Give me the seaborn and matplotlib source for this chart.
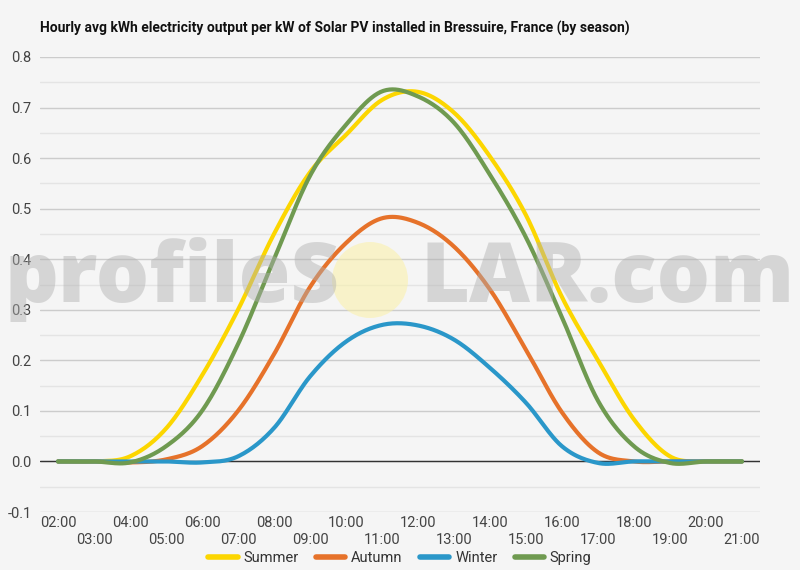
import numpy as np
import pandas as pd
import matplotlib
matplotlib.use("Agg")
import matplotlib.pyplot as plt
from matplotlib.patches import Ellipse
from matplotlib.ticker import MultipleLocator
import seaborn as sns

# Data
hours = ["02:00", "03:00", "04:00", "05:00", "06:00", "07:00", "08:00", "09:00", "10:00", "11:00",
         "12:00", "13:00", "14:00", "15:00", "16:00", "17:00", "18:00", "19:00", "20:00", "21:00"]
summer = [0, 0, 0.01, 0.065, 0.17, 0.3, 0.45, 0.572, 0.646, 0.715,
          0.731, 0.69, 0.603, 0.487, 0.325, 0.2, 0.083, 0.01, 0, 0]
autumn = [0, 0, -0.002, 0.004, 0.03, 0.1, 0.212, 0.345, 0.432, 0.481,
          0.472, 0.425, 0.34, 0.221, 0.097, 0.018, 0, 0, 0, 0]
winter = [0, 0, 0, 0, -0.002, 0.01, 0.066, 0.168, 0.237, 0.27,
          0.269, 0.241, 0.185, 0.116, 0.03, -0.003, 0, 0, 0, 0]
spring = [0, 0, -0.002, 0.03, 0.1, 0.232, 0.4, 0.565, 0.666, 0.732,
          0.722, 0.67, 0.567, 0.443, 0.285, 0.12, 0.03, -0.003, 0, 0]

seasons = {"Summer": summer, "Autumn": autumn, "Winter": winter, "Spring": spring}
palette = {"Summer": "#fcd600", "Autumn": "#e6722a", "Winter": "#2a97c9", "Spring": "#6f9a50"}


def smooth(y, n=24):
    # Catmull-Rom curve through the hourly points (like the original curved lines)
    y = np.asarray(y, float)
    p = np.concatenate([[y[0]], y, [y[-1]]])
    t = np.linspace(0, 1, n, endpoint=False)
    xs, ys = [], []
    for i in range(len(y) - 1):
        p0, p1, p2, p3 = p[i], p[i + 1], p[i + 2], p[i + 3]
        ys.append(0.5 * (2 * p1 + (-p0 + p2) * t + (2 * p0 - 5 * p1 + 4 * p2 - p3) * t ** 2
                         + (-p0 + 3 * p1 - 3 * p2 + p3) * t ** 3))
        xs.append(i + t)
    xs.append([len(y) - 1])
    ys.append([y[-1]])
    return np.concatenate(xs), np.concatenate(ys)


frames = []
for name, vals in seasons.items():
    sx, sy = smooth(vals)
    frames.append(pd.DataFrame({"x": sx, "kwh": sy, "season": name}))
df = pd.concat(frames, ignore_index=True)

bg = "#f5f5f5"
sns.set_style("white", {"axes.facecolor": bg, "figure.facecolor": bg})
plt.rcParams["font.family"] = ["Roboto", "DejaVu Sans"]

fig = plt.figure(figsize=(8, 5.7), dpi=100)
ax = fig.add_axes([0.05, 1 - 512 / 570, 0.90, (512 - 57) / 570])

sns.lineplot(data=df, x="x", y="kwh", hue="season", palette=palette, estimator=None,
             sort=False, linewidth=3, ax=ax, solid_capstyle="round")

ax.set_xlim(-0.5, len(hours) - 0.5)
ax.set_ylim(-0.1, 0.8)
ax.yaxis.set_major_locator(MultipleLocator(0.1))
ax.yaxis.set_minor_locator(MultipleLocator(0.05))
ax.grid(which="major", axis="y", color="#cccccc", linewidth=1)
ax.grid(which="minor", axis="y", color="#e4e4e4", linewidth=1)
ax.set_axisbelow(True)
ax.axhline(0, color="#333333", linewidth=1, zorder=1.5)
for s in ax.spines.values():
    s.set_visible(False)

ax.set_xticks(range(len(hours)))
ax.set_xticklabels([h if i % 2 == 0 else "\n" + h for i, h in enumerate(hours)],
                   linespacing=1.25)
ax.yaxis.set_major_formatter(matplotlib.ticker.FuncFormatter(lambda v, _: f"{v:.1f}"))
ax.tick_params(axis="both", which="both", length=0, labelsize=10.5, colors="#444444")
ax.tick_params(axis="x", pad=3)
ax.tick_params(axis="y", pad=6)
ax.set_xlabel("")
ax.set_ylabel("")

handles, labels = ax.get_legend_handles_labels()
ax.get_legend().remove()
for h in handles:
    h.set_linewidth(4)
fig.legend(handles, labels, loc="center", bbox_to_anchor=(0.5, 1 - 558 / 570), ncol=4,
           frameon=False, fontsize=10.5, handlelength=2.0, handletextpad=0.4,
           columnspacing=1.2, labelcolor="#333333")

fig.text(0.05, 1 - 28 / 570, "Hourly avg kWh electricity output per kW of Solar PV installed in Bressuire, France (by season)",
         fontsize=10, fontweight="bold", color="#111111", va="center", ha="left")

# watermark
wm_kw = dict(color="#b0b0b0", alpha=0.45, fontweight=800, va="baseline",
             family=["Open Sans", "DejaVu Sans"], zorder=10)
t1 = fig.text(5 / 800, 1 - 302 / 570, "profileS", ha="left", fontsize=60, **wm_kw)
t2 = fig.text(795 / 800, 1 - 302 / 570, "LAR.com", ha="right", fontsize=60, **wm_kw)
renderer = fig.canvas.get_renderer()
w1 = t1.get_window_extent(renderer).width
w2 = t2.get_window_extent(renderer).width
scale = 0.5 * (320 / w1 + 392 / w2)
t1.set_fontsize(60 * scale)
t2.set_fontsize(60 * scale)
sun = Ellipse((370 / 800, 1 - 280 / 570), 76 / 800, 76 / 570, transform=fig.transFigure,
              facecolor="#fbf1a6", edgecolor="none", alpha=0.55, zorder=9)
fig.add_artist(sun)

fig.savefig("out.png", dpi=100, facecolor=bg)
